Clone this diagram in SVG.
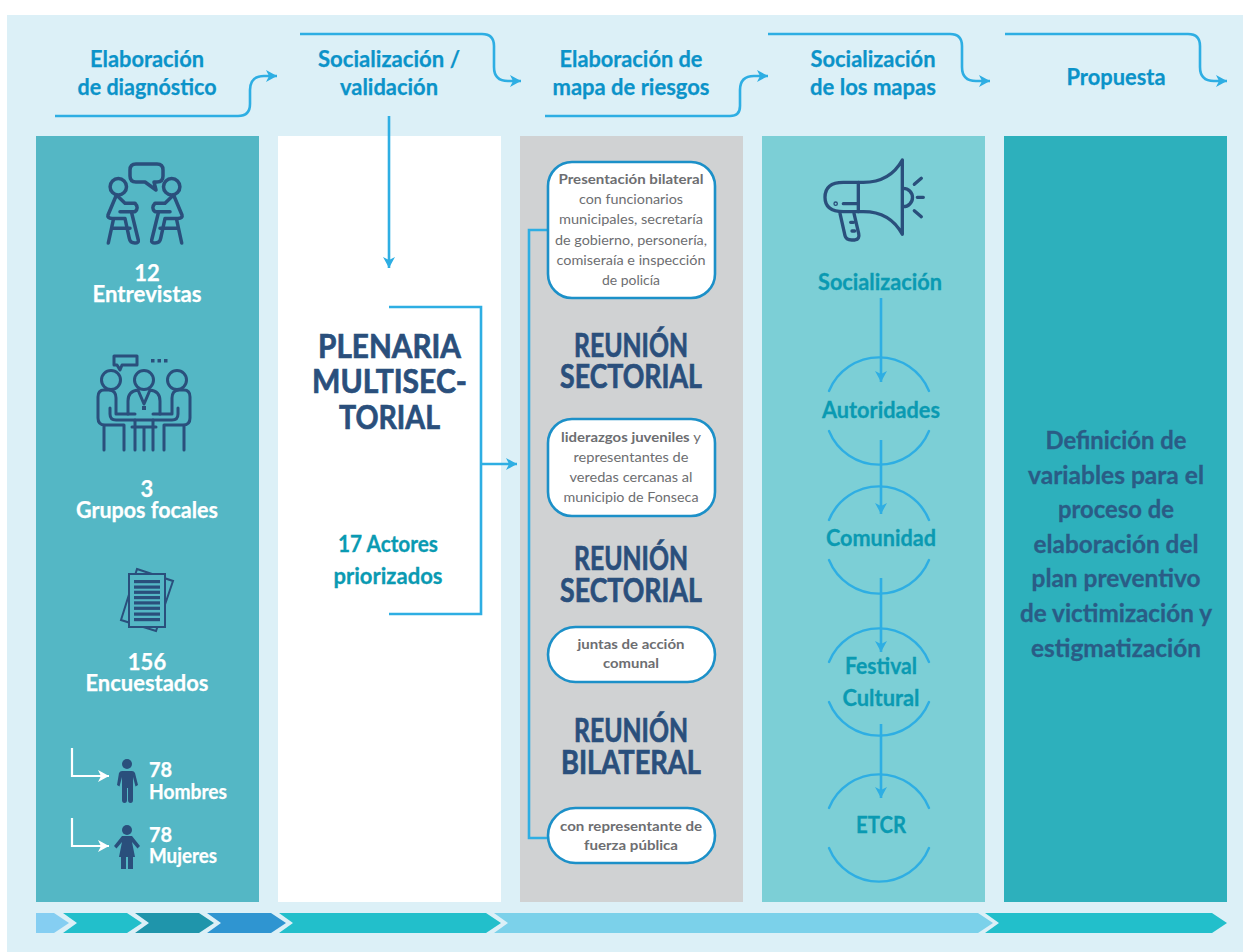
<svg xmlns="http://www.w3.org/2000/svg" width="1243" height="952" viewBox="0 0 1243 952">
<style>
text{font-family:"Lato","Liberation Sans",sans-serif;font-weight:700;text-anchor:middle}
.h{font-size:22px;fill:#0b93c9;stroke:#0b93c9;stroke-width:.25px}
.w{font-size:22px;fill:#fff;stroke:#fff;stroke-width:.25px}
.ws{text-anchor:start;font-size:20px;fill:#fff;stroke:#fff;stroke-width:.25px}
.n{font-size:33px;fill:#2a4f7c;stroke:#2a4f7c;stroke-width:.7px}
.t{font-size:23px;fill:#0a9ab2;stroke:#0a9ab2;stroke-width:.3px}
.d{font-size:24px;fill:#2a5c86;stroke:#2a5c86;stroke-width:.3px}
.b{font-size:14px;fill:#6d6e71}
.r{font-weight:400}
.c{fill:none;stroke:#2eaee3;stroke-width:2.6}
.c2{fill:none;stroke:#2eaee3;stroke-width:2.4;stroke-linecap:round}
.box{fill:#fff;stroke:#1c90c8;stroke-width:2.6}
.ic{fill:none;stroke:#2a4f7c;stroke-linecap:round;stroke-linejoin:round}
.wl{fill:none;stroke:#fff;stroke-width:2.2}
</style>
<defs>
<marker id="a" markerUnits="userSpaceOnUse" viewBox="0 0 12 12" markerWidth="12" markerHeight="12" refX="11" refY="6" orient="auto"><path d="M0 0L11 6L0 12L3 6Z" fill="#2eaee3"/></marker>
<marker id="aw" markerUnits="userSpaceOnUse" viewBox="0 0 12 12" markerWidth="12" markerHeight="12" refX="11" refY="6" orient="auto"><path d="M0 0L11 6L0 12L3 6Z" fill="#fff"/></marker>
</defs>
<rect id="background" x="7" y="15" width="1236" height="937" fill="#dcf0f7"/>
<g id="columns">
<rect x="36" y="136" width="223" height="766" fill="#54b7c5"/>
<rect x="278" y="136" width="223" height="766" fill="#fff"/>
<rect x="520" y="136" width="223" height="766" fill="#d0d2d3"/>
<rect x="762" y="136" width="223" height="766" fill="#7ccfd6"/>
<rect x="1004" y="136" width="223" height="766" fill="#2db0bc"/>
</g>
<g id="connectors">
<path class="c" marker-end="url(#a)" d="M55 116H238Q250 116 250 104V90Q250 76 264 76H277"/>
<path class="c" marker-end="url(#a)" d="M300 34H482Q494 34 494 46V67Q494 81 508 81H521"/>
<path class="c" marker-end="url(#a)" d="M545 116H730Q740 116 740 106V90Q740 76 754 76H768"/>
<path class="c" marker-end="url(#a)" d="M768 34H950Q962 34 962 46V67Q962 81 976 81H990"/>
<path class="c" marker-end="url(#a)" d="M1005 34H1188Q1200 34 1200 46V67Q1200 81 1214 81H1227"/>
<path class="c" marker-end="url(#a)" d="M389 116V268"/>
<path class="c" d="M389 307H481V614H389"/>
<path class="c" marker-end="url(#a)" d="M481 464H517"/>
<path class="c" d="M549 230H529V838H549"/>
<path class="c" marker-end="url(#a)" d="M881 298V382"/>
<path class="c" marker-end="url(#a)" d="M881 440V514"/>
<path class="c" marker-end="url(#a)" d="M881 578V652"/>
<path class="c" marker-end="url(#a)" d="M881 724V798"/>
<path class="wl" marker-end="url(#aw)" d="M72 748V776H109"/>
<path class="wl" marker-end="url(#aw)" d="M72 818V846H109"/>
</g>
<g id="header-1"><text class="h" x="147" y="67" textLength="114" lengthAdjust="spacingAndGlyphs">Elaboración</text><text class="h" x="147" y="95" textLength="139" lengthAdjust="spacingAndGlyphs">de diagnóstico</text></g>
<g id="header-2"><text class="h" x="389" y="67" textLength="142" lengthAdjust="spacingAndGlyphs">Socialización /</text><text class="h" x="389" y="95" textLength="98" lengthAdjust="spacingAndGlyphs">validación</text></g>
<g id="header-3"><text class="h" x="631" y="67" textLength="143" lengthAdjust="spacingAndGlyphs">Elaboración de</text><text class="h" x="631" y="95" textLength="157" lengthAdjust="spacingAndGlyphs">mapa de riesgos</text></g>
<g id="header-4"><text class="h" x="873" y="67" textLength="125" lengthAdjust="spacingAndGlyphs">Socialización</text><text class="h" x="873" y="95" textLength="126" lengthAdjust="spacingAndGlyphs">de los mapas</text></g>
<g id="header-5"><text class="h" x="1116" y="85" textLength="99" lengthAdjust="spacingAndGlyphs">Propuesta</text></g>

<g id="entrevistas">
<g class="ic" stroke-width="3.5">
<path d="M136 164H157Q163 164 163 170V176Q163 182 157 182H154L156 190L145 182H136Q130 182 130 176V170Q130 164 136 164Z"/>
<g id="person-left"><circle cx="118.300" cy="186.700" r="8.200"/>
<path d="M116 196L108 215Q107 218 112 218.500H125L129.300 238.300Q130 243 135 243Q139 243 138.300 240L131.700 213"/>
<path d="M118.300 196.700L125 203.300H135Q139.300 208 135 211.700H120"/>
<path d="M113.300 220L108.300 243M111.700 228.300H130"/></g>
<g transform="translate(290 0) scale(-1 1)"><circle cx="118.300" cy="186.700" r="8.200"/>
<path d="M116 196L108 215Q107 218 112 218.500H125L129.300 238.300Q130 243 135 243Q139 243 138.300 240L131.700 213"/>
<path d="M118.300 196.700L125 203.300H135Q139.300 208 135 211.700H120"/>
<path d="M113.300 220L108.300 243M111.700 228.300H130"/></g>
</g>
<text class="w" x="147" y="281">12</text><text class="w" x="147" y="302" textLength="109" lengthAdjust="spacingAndGlyphs">Entrevistas</text>
</g>

<g id="grupos-focales">
<g class="ic" stroke-width="3" stroke-linecap="butt">
<path d="M114 356H137V365H122L120 370L117 365H114Z"/>
<circle cx="111" cy="380" r="9.500"/><circle cx="144" cy="380" r="9.500"/><circle cx="177" cy="380" r="9.500"/>
<path d="M110 390H104Q98 390 98 397V418Q98 425 105 425H124V450M104 425V450"/>
<path d="M110 390Q116 391 116 398V414H135M110 408V414Q110 420 116 420H135V450"/>
<path d="M178 390H184Q190 390 190 397V418Q190 425 183 425H164V450M184 425V450"/>
<path d="M178 390Q172 391 172 398V414H153M178 408V414Q178 420 172 420H153V450"/>
<path d="M128 414V401Q128 391 138 390L144 404L150 390Q160 391 160 401V414"/>
<path d="M132 427H156M144 427V450M135 420H153"/>
</g>
<g fill="#2a4f7c"><rect x="151" y="359" width="3.500" height="3.500"/><rect x="157.500" y="359" width="3.500" height="3.500"/><rect x="164" y="359" width="3.500" height="3.500"/><rect x="142" y="406" width="4" height="4"/></g>
<text class="w" x="147" y="497">3</text><text class="w" x="147" y="518" textLength="142" lengthAdjust="spacingAndGlyphs">Grupos focales</text>
</g>

<g id="encuestados">
<path d="M137 569L173 581L156 631L121 620Z" fill="none" stroke="#2a4f7c" stroke-width="2"/>
<rect x="129" y="574" width="36" height="53" fill="#54b7c5" stroke="#2a4f7c" stroke-width="2"/>
<g fill="#2a4f7c"><rect x="134" y="580" width="26" height="3.200"/><rect x="134" y="585.500" width="26" height="3.200"/><rect x="134" y="590.700" width="26" height="3.200"/><rect x="134" y="596" width="26" height="3.200"/><rect x="134" y="601.300" width="26" height="3.200"/><rect x="134" y="606.700" width="26" height="3.200"/><rect x="134" y="612.500" width="26" height="3.200"/><rect x="134" y="618" width="26" height="3.200"/></g>
<text class="w" x="147" y="670">156</text><text class="w" x="147" y="691" textLength="123" lengthAdjust="spacingAndGlyphs">Encuestados</text>
</g>

<g id="hombres">
<g fill="#2a4f7c"><circle cx="127" cy="764" r="5"/><path d="M122 771H132Q134 771 135 773L138 785L135.500 786.500L133 777V800Q133 803 130.500 803Q128 803 128 800V788H127V800Q127 803 124.500 803Q122 803 122 800V777L119.500 786.500L117 785L119 773Q120 771 122 771Z"/></g>
<text class="ws" x="149" y="777">78</text><text class="ws" x="149" y="799" textLength="78" lengthAdjust="spacingAndGlyphs">Hombres</text>
</g>
<g id="mujeres">
<g fill="#2a4f7c"><circle cx="127" cy="830" r="5"/><path d="M122 836H132L140 846L137.500 848.500L132 842L135 857H133V869H128V857H126V869H121V857H119L122 842L116.500 848.500L114 846Z"/></g>
<text class="ws" x="149" y="842">78</text><text class="ws" x="149" y="863" textLength="68" lengthAdjust="spacingAndGlyphs">Mujeres</text>
</g>

<g id="plenaria">
<text class="n" x="389.500" y="358" textLength="143" lengthAdjust="spacingAndGlyphs">PLENARIA</text>
<text class="n" x="389.500" y="393" textLength="155" lengthAdjust="spacingAndGlyphs">MULTISEC-</text>
<text class="n" x="389.500" y="429" textLength="101" lengthAdjust="spacingAndGlyphs">TORIAL</text>
</g>
<g id="actores">
<text class="t" x="388" y="552" textLength="100" lengthAdjust="spacingAndGlyphs">17 Actores</text>
<text class="t" x="388" y="584" textLength="109" lengthAdjust="spacingAndGlyphs">priorizados</text>
</g>

<g id="box-presentacion"><rect class="box" x="548" y="162" width="167" height="136" rx="24"/>
<text class="b" x="631" y="184" textLength="145" lengthAdjust="spacingAndGlyphs">Presentación bilateral</text>
<text class="b r" x="631" y="204" textLength="104" lengthAdjust="spacingAndGlyphs">con funcionarios</text>
<text class="b r" x="631" y="224" textLength="144" lengthAdjust="spacingAndGlyphs">municipales, secretaría</text>
<text class="b r" x="631" y="245" textLength="152" lengthAdjust="spacingAndGlyphs">de gobierno, personería,</text>
<text class="b r" x="631" y="265" textLength="149" lengthAdjust="spacingAndGlyphs">comiseraía e inspección</text>
<text class="b r" x="631" y="285" textLength="58" lengthAdjust="spacingAndGlyphs">de policía</text></g>
<g id="reunion-1"><text class="n" x="631" y="356.500" textLength="114" lengthAdjust="spacingAndGlyphs">REUNIÓN</text><text class="n" x="631" y="387.500" textLength="142" lengthAdjust="spacingAndGlyphs">SECTORIAL</text></g>
<g id="box-liderazgos"><rect class="box" x="548" y="419" width="167" height="97" rx="24"/>
<text class="b" x="631" y="442" textLength="140" lengthAdjust="spacingAndGlyphs">liderazgos juveniles <tspan class="r">y</tspan></text>
<text class="b r" x="631" y="462" textLength="115" lengthAdjust="spacingAndGlyphs">representantes de</text>
<text class="b r" x="631" y="482" textLength="123" lengthAdjust="spacingAndGlyphs">veredas cercanas al</text>
<text class="b r" x="631" y="502" textLength="135" lengthAdjust="spacingAndGlyphs">municipio de Fonseca</text></g>
<g id="reunion-2"><text class="n" x="631" y="570" textLength="114" lengthAdjust="spacingAndGlyphs">REUNIÓN</text><text class="n" x="631" y="602" textLength="142" lengthAdjust="spacingAndGlyphs">SECTORIAL</text></g>
<g id="box-juntas"><rect class="box" x="548" y="627" width="167" height="55" rx="27.500"/>
<text class="b" x="631" y="649" textLength="107" lengthAdjust="spacingAndGlyphs">juntas de acción</text>
<text class="b" x="631" y="668" textLength="56" lengthAdjust="spacingAndGlyphs">comunal</text></g>
<g id="reunion-3"><text class="n" x="631" y="742" textLength="114" lengthAdjust="spacingAndGlyphs">REUNIÓN</text><text class="n" x="631" y="774" textLength="140" lengthAdjust="spacingAndGlyphs">BILATERAL</text></g>
<g id="box-fuerza"><rect class="box" x="548" y="808" width="167" height="55" rx="27.500"/>
<text class="b" x="631" y="831" textLength="142" lengthAdjust="spacingAndGlyphs">con representante de</text>
<text class="b" x="631" y="850" textLength="94" lengthAdjust="spacingAndGlyphs">fuerza pública</text></g>

<g id="socializacion">
<g class="ic" transform="translate(780 145) scale(.3333)" stroke-width="10">
<path d="M235 112H250Q330 112 367 45V268Q330 200 250 200H235"/>
<path d="M235 112H190Q135 112 135 157Q135 200 190 200H235ZM190 176H235"/>
<path d="M180 205L195 272Q198 285 215 285H225Q240 282 236 265L222 205M212 232H220M216 258H224"/>
<path d="M370 130A27 27 0 0 1 370 185M403 118L424 100M412 157H430M403 197L424 215"/>
<circle cx="167" cy="176" r="2"/>
</g>
<text class="t" x="880" y="290" textLength="124" lengthAdjust="spacingAndGlyphs">Socialización</text>
</g>
<g id="autoridades"><path class="c2" d="M829 391A54 54 0 0 1 929 391M829 431A54 54 0 0 0 929 431"/><text class="t" x="881" y="418" textLength="118" lengthAdjust="spacingAndGlyphs">Autoridades</text></g>
<g id="comunidad"><path class="c2" d="M829 520A54 54 0 0 1 929 520M829 560A54 54 0 0 0 929 560"/><text class="t" x="881" y="546" textLength="110" lengthAdjust="spacingAndGlyphs">Comunidad</text></g>
<g id="festival"><path class="c2" d="M829 662A54 54 0 0 1 929 662M829 702A54 54 0 0 0 929 702"/><text class="t" x="881" y="674" textLength="72" lengthAdjust="spacingAndGlyphs">Festival</text><text class="t" x="881" y="706" textLength="77" lengthAdjust="spacingAndGlyphs">Cultural</text></g>
<g id="etcr"><path class="c2" d="M829 808A54 54 0 0 1 929 808M829 848A54 54 0 0 0 929 848"/><text class="t" x="881" y="833" textLength="50" lengthAdjust="spacingAndGlyphs">ETCR</text></g>

<g id="definicion">
<text class="d" x="1116" y="449" textLength="141" lengthAdjust="spacingAndGlyphs">Definición de</text>
<text class="d" x="1116" y="484" textLength="176" lengthAdjust="spacingAndGlyphs">variables para el</text>
<text class="d" x="1116" y="518" textLength="116" lengthAdjust="spacingAndGlyphs">proceso de</text>
<text class="d" x="1116" y="553" textLength="165" lengthAdjust="spacingAndGlyphs">elaboración del</text>
<text class="d" x="1116" y="587" textLength="169" lengthAdjust="spacingAndGlyphs">plan preventivo</text>
<text class="d" x="1116" y="622" textLength="192" lengthAdjust="spacingAndGlyphs">de victimización y</text>
<text class="d" x="1116" y="657" textLength="170" lengthAdjust="spacingAndGlyphs">estigmatización</text>
</g>

<g id="timeline">
<path d="M36 913H54L69 923L54 933H36Z" fill="#85cef2"/>
<path d="M63 913H127L142 923L127 933H63L77 923Z" fill="#22bfcb"/>
<path d="M135 913H199L214 923L199 933H135L149 923Z" fill="#1f95ab"/>
<path d="M207 913H271L286 923L271 933H207L221 923Z" fill="#2f95d1"/>
<path d="M279 913H486L501 923L486 933H279L293 923Z" fill="#22bfcb"/>
<path d="M494 913H978L993 923L978 933H494L508 923Z" fill="#7bd1ea"/>
<path d="M985 913H1212L1227 923L1212 933H985L999 923Z" fill="#22bfcb"/>
</g>
</svg>
